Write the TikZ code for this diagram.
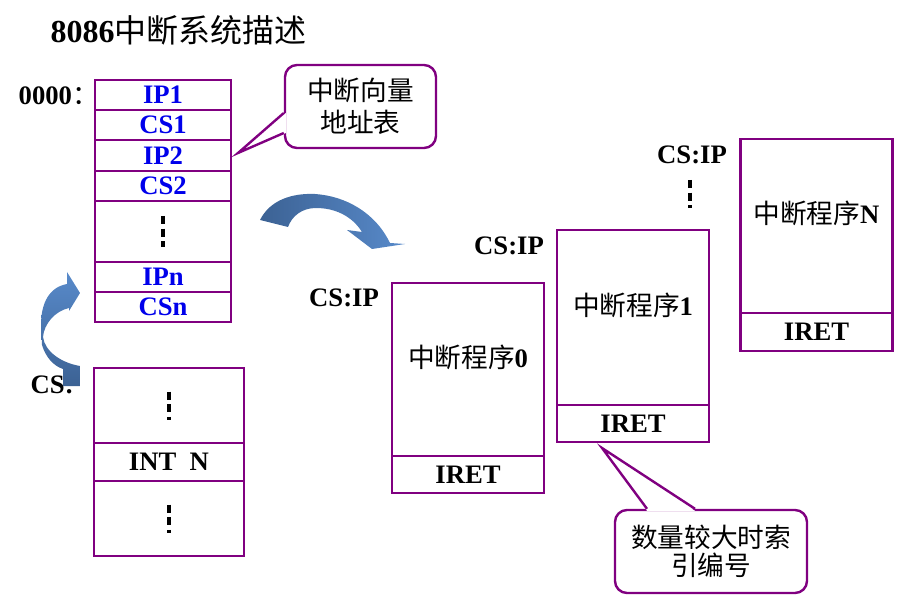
\documentclass[tikz,border=0pt]{standalone}
\usepackage{fontspec}
\setmainfont{Liberation Serif}
\newfontfamily\cjk{Noto Sans CJK SC}
\usetikzlibrary{calc}
\definecolor{boxpurple}{RGB}{128,0,128}
\definecolor{entryblue}{RGB}{0,0,235}
\definecolor{arrowdark}{RGB}{60,98,148}
\definecolor{arrowlight}{RGB}{88,138,202}

\begin{document}
\begin{tikzpicture}[x=0.75pt,y=-0.75pt,
    vcell/.style ={draw=boxpurple, line width=1.8pt, minimum width=102pt, minimum height=22.5pt, inner sep=0pt, text=entryblue, font=\fontsize{20}{24}\selectfont\bfseries},
    codecell/.style ={draw=boxpurple, line width=1.8pt, minimum width=112.5pt, inner sep=0pt, font=\fontsize{20}{24}\selectfont\bfseries},
    routine/.style ={draw=boxpurple, line width=1.8pt, minimum width=114pt, inner sep=0pt, font=\fontsize{20}{24}\selectfont\bfseries},
    tag/.style ={font=\fontsize{20}{24}\selectfont\bfseries},
    cjktext/.style ={font=\cjk\fontsize{20}{24}\selectfont},
    callout/.style ={draw=boxpurple, line width=1.8pt, rounded corners=9pt, fill=white, align=center, inner sep=0pt},
    dotline/.style ={draw=black, line width=2.4pt, dash pattern=on 6pt off 3.5pt}]
   \useasboundingbox (0,0) rectangle (904,599);

   \node[anchor=west, font=\fontsize{24}{28}\selectfont] (title) at (46,30) {\textbf{8086}{\cjk 中断系统描述}};

   \node[tag, anchor=west] (origin) at (14,96) {0000{\cjk\mdseries ：}};
   \node[vcell] (ip1) at (163,95) {IP1};
   \node[vcell] (cs1) at (163,125) {CS1};
   \node[vcell, minimum height=23.25pt] (ip2) at (163,155.5) {IP2};
   \node[vcell] (cs2) at (163,186) {CS2};
   \node[vcell, minimum height=45.75pt] (vgap) at (163,231.5) {};
   \node[vcell] (ipn) at (163,277) {IPn};
   \node[vcell] (csn) at (163,307) {CSn};
   \draw[dotline] (vgap.center) ++(0,-15.5) -- ++(0,31);

   \node[tag, anchor=west] (csbase) at (26,385) {CS:};
   \node[codecell, minimum height=56.25pt] (code1) at (169,405.5) {};
   \node[codecell, minimum height=28.5pt] (intn) at (169,462) {INT~~N};
   \node[codecell, minimum height=56.25pt] (code2) at (169,518.5) {};
   \draw[dotline] (code1.center) ++(0,-14) -- ++(0,28);
   \draw[dotline] (code2.center) ++(0,-14) -- ++(0,28);

   \node[tag] (entry0) at (344,298) {CS:IP};
   \node[routine, minimum height=129.75pt] (prog0) at (468,369.5) {};
   \node[routine, minimum height=27.75pt] (iret0) at (468,474.5) {IRET};
   \node[cjktext] (name0) at (468,357) {中断程序{\rmfamily\bfseries 0}};

   \node[tag] (entry1) at (509,246) {CS:IP};
   \node[routine, minimum height=131.25pt] (prog1) at (633,317.5) {};
   \node[routine, minimum height=27.75pt] (iret1) at (633,423.5) {IRET};
   \node[cjktext] (name1) at (633,305) {中断程序{\rmfamily\bfseries 1}};

   \node[tag] (entryN) at (692,155) {CS:IP};
   \coordinate (gapN) at (690,194);
   \draw[dotline] (gapN) ++(0,-14) -- ++(0,28);
   \node[routine, minimum height=130.5pt] (progN) at (816.5,226) {};
   \node[routine, minimum height=28.5pt] (iretN) at (816.5,332) {IRET};
   \node[cjktext] (nameN) at (816.5,213) {中断程序{\rmfamily\bfseries N}};

   \node[callout, font=\cjk\fontsize{20}{24}\selectfont, minimum width=113.25pt, minimum height=62.25pt] (vecnote) at (360.5,106.5) {中断向量\\地址表};
   \coordinate (vectip) at (238,153);
   \fill[white] ($(vecnote.west)+(2,6.5)$) -- (vectip) -- ($(vecnote.west)+(2,26.5)$) -- cycle;
   \draw[boxpurple, line width=1.8pt] ($(vecnote.west)+(0,6.5)$) -- (vectip) -- ($(vecnote.west)+(0,26.5)$);

   \node[callout, font=\cjk\fontsize{20}{21}\selectfont, minimum width=144pt, minimum height=62.25pt] (bignote) at (711,551.5) {数量较大时索\\引编号};
   \coordinate (bigtip) at (602,448);
   \fill[white] ($(bignote.north)+(-64,2)$) -- (bigtip) -- ($(bignote.north)+(-16,2)$) -- cycle;
   \draw[boxpurple, line width=1.8pt] ($(bignote.north)+(-64,0)$) -- (bigtip) -- ($(bignote.north)+(-16,0)$);

   \shade[top color=arrowlight, bottom color=arrowdark] (80,293) -- (67,272) -- (67,284)
      .. controls (50,287) and (41,302) .. (41,325) -- (42,345)
      .. controls (46,358) and (54,366) .. (63,369) -- (63,386) -- (80,386) -- (80,366)
      .. controls (62,363) and (45,352) .. (43,337)
      .. controls (44,324) and (55,311) .. (69,308) -- (69,311) -- cycle;
   \shade[left color=arrowdark, right color=arrowlight] (260,220)
      .. controls (270,200) and (292,193) .. (315,194)
      .. controls (345,196) and (375,212) .. (390,243) -- (405,244) -- (372,249) -- (347,230) -- (362,232)
      .. controls (352,216) and (335,208) .. (316,208)
      .. controls (302,208) and (292,216) .. (288,227) -- cycle;
 \end{tikzpicture}
\end{document}
